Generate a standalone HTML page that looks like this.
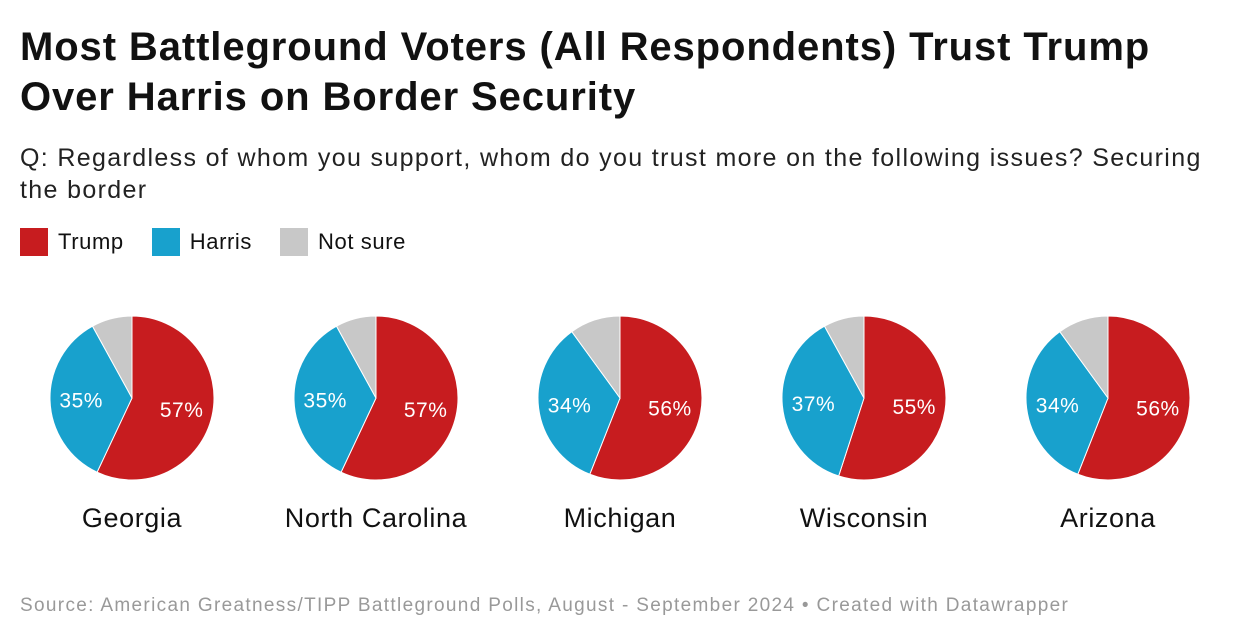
<!DOCTYPE html>
<html><head><meta charset="utf-8">
<style>
body{margin:0;width:1240px;height:640px;background:#fff;font-family:"Liberation Sans",sans-serif;color:#111;position:relative;overflow:hidden}
h1{position:absolute;left:20px;top:22px;margin:0;font-size:40px;line-height:50px;font-weight:bold;letter-spacing:0.9px;white-space:nowrap}
.sub{position:absolute;left:20px;top:142px;font-size:25px;line-height:32px;color:#222;letter-spacing:1.35px;white-space:nowrap}
.legend{position:absolute;left:20px;top:228px;font-size:22px;display:flex;letter-spacing:0.6px}
.li{display:flex;align-items:center;margin-right:28px}
.sw{width:28px;height:28px;margin-right:10px}
.src{position:absolute;left:20px;top:595px;font-size:19px;color:#999;letter-spacing:1.33px;white-space:nowrap}
svg{position:absolute;left:0;top:0}
</style></head><body>
<h1>Most Battleground Voters (All Respondents) Trust Trump<br>Over Harris on Border Security</h1>
<div class="sub">Q: Regardless of whom you support, whom do you trust more on the following issues? Securing<br>the border</div>
<div class="legend">
<div class="li"><div class="sw" style="background:#c71c1f"></div>Trump</div>
<div class="li"><div class="sw" style="background:#18a1cd"></div>Harris</div>
<div class="li"><div class="sw" style="background:#c8c8c8"></div>Not sure</div>
</div>
<svg id="chart" width="1240" height="640"></svg>
<div class="src">Source: American Greatness/TIPP Battleground Polls, August - September 2024 • Created with Datawrapper</div>
<script>
const states=["Georgia","North Carolina","Michigan","Wisconsin","Arizona"];
const trump=[57,57,56,55,56];
const harris=[35,35,34,37,34];
const notSure=[8,8,10,8,10];
const colors=["#c71c1f","#18a1cd","#c8c8c8"];
const ns="http://www.w3.org/2000/svg";
const svg=document.getElementById("chart");
const R=82,cy=398;
function pt(cx,r,a){return [cx+r*Math.sin(a),cy-r*Math.cos(a)];}
states.forEach((s,i)=>{
  const cx=132+i*244;
  const vals=[trump[i],harris[i],notSure[i]];
  const tot=vals.reduce((a,b)=>a+b,0);
  let a0=0;
  vals.forEach((v,j)=>{
    const a1=a0+v/tot*2*Math.PI;
    const p0=pt(cx,R,a0),p1=pt(cx,R,a1);
    const path=document.createElementNS(ns,"path");
    path.setAttribute("d",`M${cx},${cy}L${p0[0]},${p0[1]}A${R},${R} 0 ${a1-a0>Math.PI?1:0} 1 ${p1[0]},${p1[1]}Z`);
    path.setAttribute("fill",colors[j]);
    path.setAttribute("stroke","#fff");
    path.setAttribute("stroke-width","1");
    
    
    svg.appendChild(path);
    if(j<2){
      const m=(a0+a1)/2,lp=pt(cx,R*0.62,m);
      const t=document.createElementNS(ns,"text");
      t.setAttribute("x",lp[0]);t.setAttribute("y",lp[1]+8);
      t.setAttribute("text-anchor","middle");t.setAttribute("fill","#fff");
      t.setAttribute("font-size","21");t.setAttribute("letter-spacing","0.5");
      t.textContent=v+"%";
      
      
      svg.appendChild(t);
    }
    a0=a1;
  });
  const n=document.createElementNS(ns,"text");
  n.setAttribute("x",cx);n.setAttribute("y",527);
  n.setAttribute("text-anchor","middle");n.setAttribute("font-size","27");n.setAttribute("fill","#111");
  n.setAttribute("letter-spacing","0.6");
  n.textContent=s;
  
  
  svg.appendChild(n);
});
</script>
</body></html>
